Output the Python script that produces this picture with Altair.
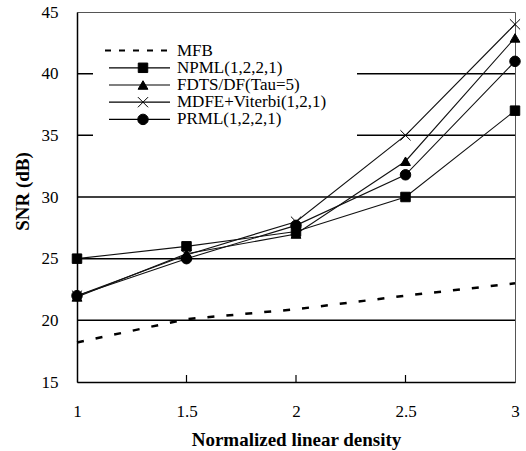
import altair as alt
import pandas as pd

# ---- data ----
density = [1, 1.5, 2, 2.5, 3]
series_names = ["MFB", "NPML(1,2,2,1)", "FDTS/DF(Tau=5)", "MDFE+Viterbi(1,2,1)", "PRML(1,2,2,1)"]
mfb = [18.2, 20.1, 20.9, 22.0, 23.0]
npml = [25.0, 26.0, 27.2, 30.0, 37.0]
fdts = [21.9, 25.4, 27.0, 32.9, 42.9]
mdfe = [22.0, 25.3, 28.0, 35.0, 44.0]
prml = [22.0, 25.0, 27.7, 31.8, 41.0]

x_tick_values = [1, 1.5, 2, 2.5, 3]
inner_x_ticks = [1.5, 2, 2.5]
y_tick_values = [15, 20, 25, 30, 35, 40, 45]
grid_values = [20, 25, 30, 35, 40]

marker_names = series_names[1:]
marker_shapes = ["square", "triangle-up", "M-1,-1L1,1M-1,1L1,-1", "circle"]
marker_sizes = [90, 110, 45, 170]

FONT = "Liberation Serif"
W, H = 438, 370

rows = []
for name, vals in zip(series_names, [mfb, npml, fdts, mdfe, prml]):
    for d, v in zip(density, vals):
        rows.append({"series": name, "density": d, "snr": v})
df = pd.DataFrame(rows)

x_axis = alt.Axis(values=x_tick_values, format="~g", title="Normalized linear density",
                  labelPadding=21, titleY=57, titleBaseline="middle")
y_axis = alt.Axis(values=y_tick_values, format="d", title="SNR (dB)",
                  labelPadding=19, titleX=-55, titleY=179, titleBaseline="middle",
                  titleAlign="center")
X = alt.X("density:Q", scale=alt.Scale(domain=[1, 3], nice=False, zero=False), axis=x_axis)
Y = alt.Y("snr:Q", scale=alt.Scale(domain=[15, 45], nice=False, zero=False), axis=y_axis)

shape_enc = alt.Shape("series:N", scale=alt.Scale(domain=marker_names, range=marker_shapes), legend=None)
size_enc = alt.Size("series:O", scale=alt.Scale(domain=marker_names, range=marker_sizes), legend=None)

grid = alt.Chart(pd.DataFrame({"snr": grid_values})).mark_rule(
    color="black", strokeWidth=1.5).encode(y=Y)

ticks = alt.Chart(pd.DataFrame({"density": inner_x_ticks})).mark_rule(
    color="black", strokeWidth=1.2).encode(x=X, y=alt.value(H - 7), y2=alt.value(H))

base = alt.Chart(df)
mfb_line = base.transform_filter(alt.datum.series == "MFB").mark_line(
    color="black", strokeWidth=2.5, strokeDash=[7, 12]).encode(x=X, y=Y)
other_lines = base.transform_filter(alt.datum.series != "MFB").mark_line(
    color="#111111", strokeWidth=1.1).encode(x=X, y=Y, detail="series:N")
points = base.transform_filter(alt.datum.series != "MFB").mark_point(
    filled=True, color="black", stroke="black", strokeWidth=1, opacity=1).encode(
    x=X, y=Y, shape=shape_enc, size=size_enc)

main = alt.layer(grid, ticks, mfb_line, other_lines, points)

# ---- legend drawn as its own layer ----
legend_df = pd.DataFrame({"series": series_names})
LY = alt.Y("series:N", scale=alt.Scale(domain=series_names, range=[30, 116], padding=0), axis=None)

box = alt.Chart(pd.DataFrame({"k": [0]})).mark_rect(fill="white").encode(
    x=alt.value(16), x2=alt.value(280), y=alt.value(10), y2=alt.value(128))
leg_dash = alt.Chart(legend_df).transform_filter(alt.datum.series == "MFB").mark_rule(
    color="black", strokeWidth=2, strokeDash=[6, 8]).encode(
    x=alt.value(28), x2=alt.value(93), y=LY)
leg_solid = alt.Chart(legend_df).transform_filter(alt.datum.series != "MFB").mark_rule(
    color="black", strokeWidth=1.2).encode(
    x=alt.value(32), x2=alt.value(93), y=LY)
leg_pts = alt.Chart(legend_df).transform_filter(alt.datum.series != "MFB").mark_point(
    filled=True, color="black", stroke="black", strokeWidth=1, opacity=1).encode(
    x=alt.value(66), y=LY, shape=shape_enc, size=size_enc)
leg_text = alt.Chart(legend_df).mark_text(
    align="left", baseline="middle", font=FONT, fontSize=17, color="black").encode(
    x=alt.value(100), y=LY, text="series:N")

legend = alt.layer(box, leg_dash, leg_solid, leg_pts, leg_text)

chart = alt.layer(main, legend).resolve_scale(
    y="independent", shape="independent", size="independent"
).properties(
    width=W, height=H,
    padding={"left": 77, "top": 12, "right": 11, "bottom": 69},
    autosize=alt.AutoSizeParams(type="none"),
    background="white",
).configure_axis(
    domainColor="black", domainWidth=1.5, tickSize=0, grid=False, labelFlush=False,
    labelFont=FONT, labelFontSize=17, labelColor="black",
    titleFont=FONT, titleFontSize=19, titleFontWeight="bold", titleColor="black",
).configure_view(stroke="#555555", strokeWidth=1)

chart.save("out.html", embed_options={"renderer": "svg", "actions": False})
